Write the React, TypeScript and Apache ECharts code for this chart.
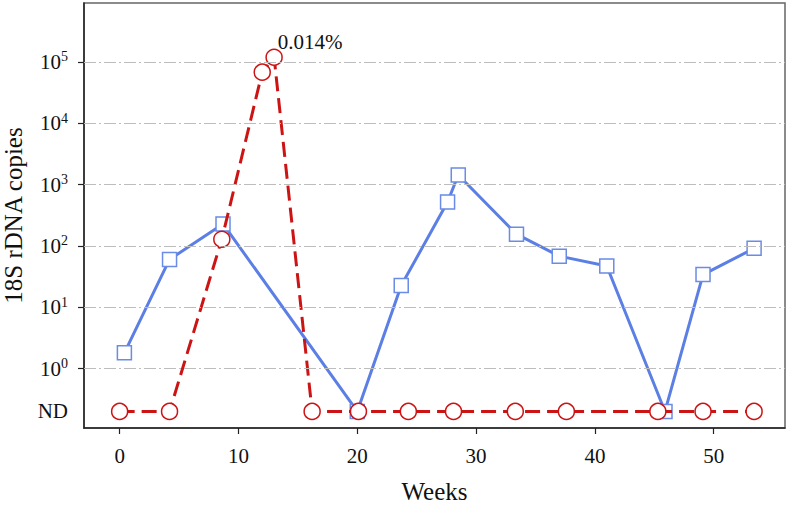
import React, { useEffect, useRef } from "react";
import * as echarts from "echarts";

// Weeks and 18S rDNA copies (null = ND, not detected)
const blueWeeks = [0.4, 4.2, 8.7, 20.0, 23.7, 27.6, 28.5, 33.4, 37.0, 41.0, 45.9, 49.1, 53.4];
const blueCopies: (number | null)[] = [1.8, 60, 228, null, 22.5, 518, 1430, 155, 68, 47, null, 34, 91];

const redWeeks = [0.0, 4.2, 8.6, 12.0, 13.0, 16.2, 20.1, 24.3, 28.1, 33.3, 37.6, 45.3, 49.1, 53.4];
const redCopies: (number | null)[] = [null, null, 128, 67900, 119000, null, null, null, null, null, null, null, null, null];

const peakLabel = "0.014%";
const peakIndex = 4;

const yTickExponents = [0, 1, 2, 3, 4, 5];
const xTicks = [0, 10, 20, 30, 40, 50];
const ND_LEVEL = -0.7;

const FONT = "Liberation Serif";

function toLog(v: number | null): number {
  return v === null ? ND_LEVEL : Math.log10(v);
}

export default function App() {
  const ref = useRef<HTMLDivElement>(null);
  useEffect(() => {
    if (!ref.current) return;
    const chart = echarts.init(ref.current, null, { renderer: "svg" });
    const blueData = blueWeeks.map((w, i) => [w, toLog(blueCopies[i])]);
    const redData: any[] = redWeeks.map((w, i) => [w, toLog(redCopies[i])]);
    redData[peakIndex] = {
      value: redData[peakIndex],
      label: {
        show: true,
        formatter: peakLabel,
        position: "right",
        distance: 2,
        offset: [-7, -15],
        fontFamily: FONT,
        fontSize: 21,
        color: "#111",
      },
    };
    chart.setOption({
      animation: false,
      backgroundColor: "#fff",
      textStyle: { fontFamily: FONT },
      grid: {
        left: 84,
        right: 4,
        top: 3,
        bottom: 79,
        containLabel: false,
        outerBoundsMode: "none",
        show: true,
        borderColor: "#666",
        borderWidth: 1.5,
        backgroundColor: "transparent",
      },
      xAxis: {
        type: "value",
        min: -3,
        max: 56,
        name: "Weeks",
        nameLocation: "middle",
        nameGap: 51,
        nameTextStyle: { fontFamily: FONT, fontSize: 25, color: "#111" },
        axisLine: { show: true, onZero: false, lineStyle: { color: "#222", width: 1.5 } },
        axisTick: { show: true, customValues: xTicks, length: 6, lineStyle: { color: "#222", width: 1.2 } },
        axisLabel: { customValues: xTicks, margin: 17, fontFamily: FONT, fontSize: 21, color: "#111" },
        splitLine: { show: false },
      },
      yAxis: {
        type: "value",
        min: -0.97,
        max: 5.96,
        name: "18S rDNA copies",
        nameLocation: "middle",
        nameGap: 58,
        nameTextStyle: { fontFamily: FONT, fontSize: 25, color: "#111" },
        axisLine: { show: true, onZero: false, lineStyle: { color: "#222", width: 1.5 } },
        axisTick: { show: true, customValues: yTickExponents, length: 6, lineStyle: { color: "#222", width: 1.2 } },
        axisLabel: {
          customValues: [ND_LEVEL, ...yTickExponents],
          margin: 16,
          formatter: (v: number) =>
            Math.abs(v - ND_LEVEL) < 1e-6 ? "{b|ND}" : `{b|10}{s|${Math.round(v)}}`,
          rich: {
            b: { fontFamily: FONT, fontSize: 21, color: "#111" },
            s: { fontFamily: FONT, fontSize: 14, color: "#111", padding: [0, 0, 10, 0] },
          },
        },
        splitLine: { show: false },
      },
      series: [
        {
          type: "line",
          data: [],
          z: 1,
          silent: true,
          markLine: {
            silent: true,
            symbol: ["none", "none"],
            label: { show: false },
            lineStyle: { color: "#bdbdbd", width: 1.2, type: [12, 3, 2, 3] },
            data: yTickExponents.map((e) => ({ yAxis: e })),
          },
        },
        {
          type: "line",
          data: blueData,
          z: 3,
          symbol: "rect",
          symbolSize: 14,
          lineStyle: { color: "#5b7fe4", width: 3 },
          itemStyle: { color: "#fff", borderColor: "#6a8be6", borderWidth: 1.5 },
        },
        {
          type: "line",
          data: redData,
          z: 4,
          symbol: "circle",
          symbolSize: 16,
          lineStyle: { color: "#cc1414", width: 3, type: [15, 7] },
          itemStyle: { color: "#fff", borderColor: "#cc1414", borderWidth: 1.5 },
        },
      ],
    });
    return () => chart.dispose();
  }, []);
  return <div ref={ref} style={{ width: 789, height: 507, position: "absolute", left: 0, top: 0 }} />;
}
